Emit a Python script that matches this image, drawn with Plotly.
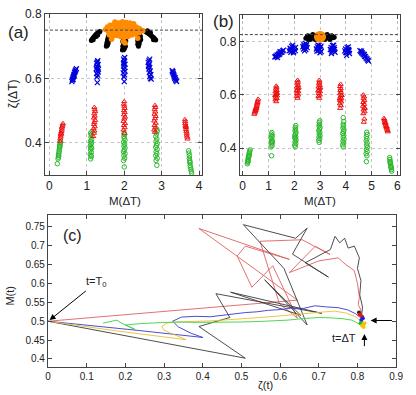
import plotly.graph_objects as go

# ================= panel (a): (M, zeta) points per species =================
A_GREEN = [(0.21,0.335),(0.23,0.35),(0.24,0.355),(0.24,0.362),(0.25,0.368),(0.26,0.372),(0.26,0.378),(0.27,0.383),(0.28,0.388),(0.28,0.393),(0.29,0.398),(0.30,0.402),(0.25,0.36),(0.27,0.39),
           (1.10,0.35),(1.11,0.36),(1.09,0.365),(1.12,0.37),(1.10,0.378),(1.13,0.383),(1.09,0.39),(1.11,0.395),(1.12,0.40),(1.10,0.405),(1.13,0.41),(1.11,0.418),(1.12,0.425),(1.10,0.43),(1.14,0.435),(1.11,0.385),(1.12,0.357),
           (2.0,0.325),(1.98,0.345),(2.01,0.352),(1.99,0.36),(2.02,0.366),(1.98,0.372),(2.0,0.378),(2.02,0.384),(1.99,0.39),(2.01,0.396),(1.98,0.402),(2.02,0.408),(2.0,0.414),(1.99,0.42),(2.01,0.426),(2.0,0.43),
           (2.87,0.33),(2.85,0.345),(2.88,0.352),(2.84,0.36),(2.87,0.366),(2.85,0.372),(2.88,0.38),(2.84,0.386),(2.86,0.392),(2.88,0.398),(2.85,0.405),(2.87,0.412),(2.84,0.42),(2.86,0.428),(2.88,0.436),(2.87,0.442),
           (3.72,0.375),(3.73,0.368),(3.74,0.36),(3.74,0.352),(3.75,0.345),(3.76,0.338),(3.76,0.33),(3.77,0.324),(3.78,0.318),(3.79,0.312),(3.80,0.306),(3.75,0.34)]
A_RED = [(0.28,0.405),(0.29,0.412),(0.30,0.418),(0.30,0.424),(0.31,0.43),(0.32,0.435),(0.33,0.44),(0.33,0.446),(0.34,0.45),(0.35,0.455),(0.36,0.46),(0.31,0.427),
         (1.17,0.42),(1.19,0.43),(1.20,0.437),(1.18,0.444),(1.21,0.45),(1.19,0.457),(1.20,0.463),(1.22,0.47),(1.19,0.477),(1.21,0.483),(1.20,0.49),(1.22,0.497),(1.21,0.503),(1.20,0.51),
         (2.0,0.43),(1.98,0.44),(2.01,0.447),(1.99,0.454),(2.02,0.46),(1.98,0.467),(2.0,0.474),(2.02,0.48),(1.99,0.487),(2.01,0.494),(1.99,0.50),(2.01,0.507),(2.0,0.514),(1.99,0.52),(2.0,0.528),
         (2.82,0.433),(2.80,0.44),(2.83,0.447),(2.81,0.454),(2.84,0.461),(2.80,0.468),(2.82,0.475),(2.84,0.482),(2.81,0.489),(2.83,0.496),(2.81,0.503),(2.83,0.51),(2.82,0.516),
         (3.62,0.472),(3.63,0.466),(3.63,0.46),(3.64,0.454),(3.65,0.448),(3.65,0.442),(3.66,0.436),(3.67,0.43),(3.67,0.424),(3.68,0.418),(3.69,0.412),(3.64,0.45)]
A_BLUE = [(0.60,0.590),(0.61,0.595),(0.62,0.598),(0.63,0.602),(0.64,0.606),(0.65,0.610),(0.66,0.613),(0.67,0.617),(0.68,0.620),(0.69,0.623),(0.70,0.626),(0.72,0.630),(0.63,0.596),(0.66,0.608),
          (1.27,0.604),(1.29,0.610),(1.26,0.615),(1.30,0.620),(1.28,0.625),(1.25,0.630),(1.29,0.634),(1.27,0.638),(1.30,0.643),(1.26,0.647),(1.28,0.651),(1.29,0.655),(1.28,0.587),(1.31,0.628),
          (1.99,0.605),(2.01,0.611),(1.97,0.617),(2.02,0.622),(1.99,0.627),(2.01,0.633),(1.98,0.638),(2.02,0.644),(1.99,0.649),(2.00,0.655),(1.98,0.660),(2.01,0.665),(2.00,0.590),(1.98,0.645),
          (2.70,0.600),(2.68,0.606),(2.71,0.612),(2.67,0.618),(2.69,0.623),(2.66,0.629),(2.68,0.634),(2.65,0.640),(2.67,0.645),(2.64,0.650),(2.66,0.655),(2.68,0.660),(2.72,0.598),(2.65,0.637),
          (3.28,0.624),(3.29,0.620),(3.31,0.616),(3.32,0.612),(3.33,0.608),(3.34,0.604),(3.35,0.600),(3.37,0.596),(3.38,0.593),(3.40,0.590),(3.30,0.622),(3.36,0.602)]
A_BLACK = [(1.12,0.718),(1.14,0.722),(1.16,0.724),(1.18,0.728),(1.20,0.730),(1.22,0.733),(1.24,0.736),(1.26,0.738),(1.28,0.740),(1.30,0.742),(1.33,0.744),(1.35,0.746),(1.17,0.72),(1.25,0.73),(1.29,0.735),
           (1.52,0.700),(1.53,0.706),(1.54,0.712),(1.55,0.717),(1.56,0.722),(1.57,0.727),(1.58,0.731),(1.60,0.735),(1.62,0.733),(1.59,0.72),(1.57,0.71),(1.55,0.703),(1.61,0.727),
           (1.95,0.688),(1.97,0.692),(1.99,0.690),(2.01,0.695),(1.96,0.700),(2.00,0.703),(2.03,0.700),(1.98,0.708),(2.02,0.712),(1.96,0.715),(2.00,0.718),(2.04,0.716),(1.98,0.722),(2.02,0.724),
           (2.38,0.700),(2.36,0.706),(2.40,0.708),(2.37,0.713),(2.41,0.716),(2.38,0.720),(2.42,0.724),(2.39,0.728),(2.43,0.731),(2.41,0.735),(2.36,0.718),(2.44,0.72),
           (2.58,0.745),(2.61,0.743),(2.64,0.740),(2.67,0.738),(2.70,0.735),(2.73,0.732),(2.76,0.729),(2.79,0.726),(2.82,0.722),(2.84,0.719),(2.62,0.748),(2.70,0.742),(2.78,0.72)]
A_ORANGE = [(1.50,0.752),(1.55,0.760),(1.58,0.745),(1.62,0.765),(1.65,0.750),(1.68,0.740),(1.72,0.768),(1.75,0.755),(1.78,0.745),(1.82,0.770),(1.85,0.758),(1.88,0.742),
            (1.92,0.766),(1.95,0.752),(1.98,0.738),(2.02,0.770),(2.05,0.756),(2.08,0.744),(2.12,0.764),(2.15,0.750),(2.18,0.740),(2.22,0.766),(2.25,0.754),(2.28,0.745),
            (2.32,0.760),(2.35,0.748),(2.40,0.755),(2.45,0.750),(2.50,0.748),(1.60,0.735),(1.70,0.732),(1.80,0.733),(1.90,0.730),(2.00,0.728),(2.10,0.730),(2.20,0.735),
            (2.30,0.738),(2.40,0.742),(1.75,0.775),(1.85,0.772),(1.95,0.776),(2.05,0.774),(2.15,0.772),(2.25,0.770),(1.66,0.722),(1.98,0.715),(2.02,0.71),(2.36,0.725)]
A_REF = 0.75

# ================= panel (b) =================
B_GREEN = [(0.18,0.342),(0.19,0.348),(0.20,0.354),(0.21,0.359),(0.22,0.364),(0.23,0.369),(0.24,0.374),(0.25,0.379),(0.26,0.384),(0.27,0.389),(0.29,0.394),(0.21,0.350),(0.25,0.372),
           (1.12,0.372),(1.10,0.405),(1.14,0.410),(1.11,0.416),(1.15,0.421),(1.12,0.427),(1.14,0.432),(1.10,0.438),(1.13,0.443),(1.15,0.448),(1.11,0.453),(1.13,0.459),(1.14,0.425),
           (2.04,0.405),(2.02,0.412),(2.06,0.418),(2.03,0.424),(2.07,0.430),(2.04,0.436),(2.06,0.442),(2.02,0.448),(2.05,0.454),(2.07,0.460),(2.03,0.466),(2.05,0.472),(2.04,0.478),(2.06,0.485),(2.02,0.440),
           (2.97,0.422),(2.95,0.430),(2.99,0.436),(2.96,0.442),(3.00,0.448),(2.97,0.454),(2.99,0.460),(2.95,0.466),(2.98,0.472),(3.00,0.478),(2.96,0.484),(2.98,0.490),(2.97,0.497),(2.99,0.503),
           (3.90,0.405),(3.88,0.413),(3.92,0.420),(3.89,0.427),(3.93,0.434),(3.90,0.441),(3.92,0.448),(3.88,0.455),(3.91,0.462),(3.93,0.469),(3.89,0.476),(3.91,0.483),(3.90,0.490),(3.92,0.500),(3.90,0.515),
           (4.80,0.350),(4.82,0.372),(4.79,0.380),(4.83,0.388),(4.80,0.396),(4.84,0.404),(4.81,0.412),(4.83,0.420),(4.79,0.428),(4.82,0.436),(4.80,0.444),(4.83,0.452),(4.81,0.460),
           (5.70,0.365),(5.71,0.358),(5.72,0.351),(5.73,0.344),(5.74,0.338),(5.75,0.332),(5.76,0.326),(5.77,0.320),(5.78,0.314),(5.72,0.347),(5.76,0.329)]
B_RED = [(0.45,0.528),(0.47,0.533),(0.48,0.538),(0.50,0.542),(0.51,0.547),(0.52,0.552),(0.54,0.557),(0.55,0.562),(0.56,0.567),(0.57,0.572),(0.58,0.577),(0.60,0.584),(0.49,0.545),(0.53,0.55),
         (1.30,0.575),(1.27,0.582),(1.32,0.587),(1.28,0.592),(1.33,0.597),(1.29,0.602),(1.31,0.607),(1.27,0.612),(1.32,0.617),(1.29,0.622),(1.31,0.627),(1.30,0.633),(1.26,0.598),(1.34,0.606),
         (2.13,0.588),(2.10,0.595),(2.15,0.600),(2.11,0.606),(2.16,0.612),(2.12,0.618),(2.14,0.624),(2.10,0.630),(2.15,0.636),(2.12,0.642),(2.14,0.648),(2.13,0.655),(2.09,0.615),(2.17,0.627),
         (2.97,0.588),(2.94,0.595),(2.99,0.600),(2.95,0.606),(3.00,0.612),(2.96,0.618),(2.98,0.624),(2.94,0.630),(2.99,0.636),(2.96,0.642),(2.98,0.648),(2.97,0.655),(2.93,0.615),(3.01,0.627),
         (3.78,0.550),(3.81,0.560),(3.77,0.567),(3.82,0.574),(3.78,0.580),(3.83,0.586),(3.79,0.592),(3.82,0.598),(3.78,0.604),(3.81,0.610),(3.79,0.617),(3.80,0.624),(3.78,0.632),(3.80,0.640),(3.76,0.585),(3.84,0.598),
         (4.70,0.498),(4.72,0.510),(4.68,0.530),(4.73,0.537),(4.69,0.544),(4.72,0.551),(4.67,0.558),(4.71,0.565),(4.68,0.572),(4.72,0.579),(4.69,0.586),(4.71,0.593),(4.68,0.60),(4.74,0.55),
         (5.48,0.512),(5.50,0.507),(5.51,0.502),(5.53,0.497),(5.54,0.492),(5.55,0.487),(5.57,0.482),(5.58,0.477),(5.60,0.472),(5.62,0.467),(5.63,0.462),(5.52,0.495),(5.59,0.48)]
B_BLUE = [(1.25,0.742),(1.28,0.745),(1.31,0.744),(1.33,0.749),(1.36,0.748),(1.38,0.752),(1.41,0.755),(1.43,0.752),(1.46,0.758),(1.49,0.761),(1.52,0.760),(1.55,0.765),(1.58,0.768),(1.35,0.740),(1.45,0.762),
          (1.80,0.765),(1.84,0.775),(1.87,0.760),(1.90,0.782),(1.92,0.768),(1.95,0.777),(1.98,0.762),(2.01,0.773),(2.04,0.766),(1.88,0.771),(1.94,0.786),(1.97,0.758),(2.05,0.778),(1.85,0.768),
          (2.33,0.780),(2.36,0.772),(2.38,0.788),(2.41,0.776),(2.43,0.793),(2.45,0.770),(2.47,0.784),(2.50,0.777),(2.40,0.765),(2.44,0.782),(2.48,0.790),(2.37,0.783),
          (2.86,0.772),(2.90,0.780),(2.93,0.765),(2.96,0.785),(2.99,0.770),(3.02,0.778),(3.05,0.762),(2.88,0.764),(2.95,0.775),(3.00,0.758),(3.04,0.783),(2.92,0.787),
          (3.40,0.770),(3.43,0.778),(3.46,0.762),(3.49,0.785),(3.52,0.768),(3.55,0.777),(3.58,0.760),(3.44,0.755),(3.50,0.775),(3.53,0.786),(3.47,0.770),(3.56,0.770),
          (3.96,0.765),(3.99,0.772),(4.02,0.758),(4.05,0.778),(4.08,0.762),(4.11,0.770),(4.14,0.755),(4.03,0.748),(4.07,0.768),(4.10,0.780),(4.00,0.760),(4.13,0.765),
          (4.55,0.766),(4.58,0.762),(4.61,0.764),(4.64,0.757),(4.67,0.753),(4.70,0.750),(4.73,0.745),(4.76,0.743),(4.79,0.738),(4.82,0.735),(4.85,0.731),(4.88,0.727),(4.62,0.758),(4.72,0.752)]
B_BLACK = [(2.45,0.812),(2.50,0.818),(2.55,0.810),(2.60,0.820),(2.65,0.814),(2.70,0.822),(2.75,0.812),(2.80,0.818),(2.85,0.824),(2.90,0.812),(2.95,0.820),
           (3.05,0.822),(3.10,0.812),(3.15,0.818),(3.20,0.824),(3.25,0.814),(3.30,0.820),(3.35,0.812),(3.40,0.818),(3.45,0.822),(3.50,0.814),(3.55,0.816),
           (2.52,0.822),(2.62,0.808),(2.72,0.826),(2.82,0.808),(3.18,0.808),(3.28,0.826),(3.38,0.808),(3.48,0.820)]
B_ORANGE = [(2.98,0.817),(3.00,0.819),(3.02,0.818)]
B_REF = 0.826

# ================= panel (c): trajectories (zeta(t), M(t)) =================
C_RED = [(0,0.5),(0.645,0.556),(0.39,0.746),(0.624,0.664),(0.51,0.699),(0.489,0.673),(0.527,0.59),(0.581,0.647),(0.645,0.508),(0.598,0.547),
         (0.548,0.712),(0.657,0.716),(0.729,0.677),(0.691,0.699),(0.624,0.629),(0.70,0.66),(0.75,0.668),(0.77,0.65),(0.792,0.634),(0.80,0.60),
         (0.805,0.564),(0.802,0.545),(0.809,0.529),(0.81,0.51)]
C_BLACK = [(0,0.5),(0.51,0.402),(0.39,0.486),(0.47,0.51),(0.434,0.573),(0.708,0.521),(0.472,0.577),(0.653,0.516),(0.56,0.61),(0.67,0.49),
           (0.61,0.64),(0.505,0.756),(0.64,0.72),(0.67,0.747),(0.632,0.678),(0.725,0.617),(0.665,0.655),(0.73,0.69),(0.742,0.725),(0.754,0.708),
           (0.767,0.72),(0.776,0.694),(0.792,0.699),(0.805,0.668),(0.80,0.64),(0.809,0.608),(0.806,0.57),(0.813,0.538),(0.811,0.515)]
C_BLUE = [(0,0.5),(0.12,0.488),(0.23,0.476),(0.40,0.457),(0.37,0.468),(0.337,0.485),(0.322,0.50),(0.345,0.511),(0.38,0.513),(0.42,0.512),
          (0.45,0.516),(0.48,0.519),(0.51,0.523),(0.54,0.525),(0.57,0.529),(0.60,0.531),(0.63,0.535),(0.66,0.534),(0.69,0.541),(0.72,0.538),
          (0.75,0.536),(0.775,0.53),(0.795,0.52),(0.81,0.508)]
C_YELLOW = [(0,0.5),(0.18,0.474),(0.357,0.451),(0.33,0.462),(0.30,0.476),(0.294,0.487),(0.31,0.496),(0.36,0.499),(0.42,0.501),(0.48,0.505),
            (0.54,0.509),(0.60,0.514),(0.65,0.519),(0.70,0.524),(0.74,0.527),(0.77,0.522),(0.795,0.512),(0.812,0.497)]
C_GREEN = [(0.142,0.495),(0.178,0.503),(0.186,0.497),(0.205,0.488),(0.225,0.478),(0.20,0.49),(0.24,0.494),(0.29,0.497),(0.33,0.498),(0.38,0.497),
           (0.44,0.497),(0.50,0.498),(0.56,0.500),(0.62,0.503),(0.66,0.507),(0.70,0.510),(0.73,0.509),(0.76,0.507),(0.785,0.503),(0.80,0.495),(0.81,0.49)]
C_END_RED = [(0.806,0.518),(0.812,0.512)]
C_END_BLACK = [(0.804,0.523)]
C_END_BLUE = [(0.814,0.508),(0.81,0.503)]
C_END_GREEN = [(0.808,0.495),(0.815,0.492)]
C_END_YELLOW = [(0.812,0.489),(0.818,0.495),(0.816,0.485)]

FONT = "Liberation Sans, Arial, sans-serif"
GREEN, RED, BLUE, ORANGE = "#2db82d", "#ee1111", "#0000dd", "#ff8c00"


def xs(pts):
    return [p[0] for p in pts]


def ys(pts):
    return [p[1] for p in pts]


fig = go.Figure()


def add_scatter(pts, ax, kind):
    xa, ya = ("x", "y") if ax == 1 else ("x%d" % ax, "y%d" % ax)
    if kind == "green":
        m = dict(symbol="circle-open", size=4.5, color=GREEN, line=dict(width=1, color=GREEN))
    elif kind == "red":
        m = dict(symbol="triangle-up-open", size=4.5, color=RED, line=dict(width=1, color=RED))
    elif kind == "blue":
        m = dict(symbol="x-thin", size=5, color=BLUE, line=dict(width=1.2, color=BLUE))
    elif kind == "black":
        m = dict(symbol="circle", size=5, color="black")
    elif kind == "orange":
        m = dict(symbol="circle", size=5.5, color=ORANGE)
    else:
        m = dict(symbol="circle", size=11, color=ORANGE)
    fig.add_trace(go.Scatter(x=xs(pts), y=ys(pts), mode="markers", marker=m,
                             xaxis=xa, yaxis=ya, showlegend=False, hoverinfo="skip"))


for pts, k in [(A_GREEN, "green"), (A_RED, "red"), (A_BLUE, "blue"), (A_BLACK, "black"), (A_ORANGE, "orange")]:
    add_scatter(pts, 1, k)
for pts, k in [(B_GREEN, "green"), (B_RED, "red"), (B_BLUE, "blue"), (B_BLACK, "black"), (B_ORANGE, "big")]:
    add_scatter(pts, 2, k)

for pts, col in [(C_RED, "#e06060"), (C_BLACK, "#3a3a3a"), (C_BLUE, "#3838d0"),
                 (C_YELLOW, "#e8c12c"), (C_GREEN, "#3fd03f")]:
    fig.add_trace(go.Scatter(x=xs(pts), y=ys(pts), mode="lines", line=dict(color=col, width=0.9),
                             xaxis="x3", yaxis="y3", showlegend=False, hoverinfo="skip"))
for pts, col in [(C_END_BLACK, "#222222"), (C_END_RED, "#ee1111"), (C_END_BLUE, "#2222dd"),
                 (C_END_GREEN, "#22bb22"), (C_END_YELLOW, "#f0c800")]:
    fig.add_trace(go.Scatter(x=xs(pts), y=ys(pts), mode="markers", marker=dict(size=4, color=col),
                             xaxis="x3", yaxis="y3", showlegend=False, hoverinfo="skip"))

W, H = 416, 395


def px2paper(x0, x1, y0, y1):
    return [x0 / W, x1 / W], [1 - y1 / H, 1 - y0 / H]


ax_common = dict(showline=True, linecolor="#444444", linewidth=1, mirror="ticks", ticks="inside",
                 ticklen=4, tickcolor="#444444", zeroline=False,
                 tickfont=dict(family=FONT, size=12, color="#222222"))
small_ticks = {**ax_common, "tickfont": dict(family=FONT, size=10, color="#222222")}
grid = dict(showgrid=True, gridcolor="#c4c4c4", gridwidth=1, griddash="dot")

dxa, dya = px2paper(43, 204, 7, 171)
dxb, dyb = px2paper(242.7, 406.7, 8, 171)
dxc, dyc = px2paper(46, 403, 212, 366)

fig.update_layout(
    width=W, height=H, margin=dict(l=0, r=0, t=0, b=0),
    paper_bgcolor="white", plot_bgcolor="white", showlegend=False,
    font=dict(family=FONT, color="#222222"),
    xaxis=dict(domain=dxa, range=[-0.12, 4.08], tick0=0, dtick=1, anchor="y", **ax_common, **grid),
    yaxis=dict(domain=dya, range=[0.3, 0.8005], tick0=0, dtick=0.2, anchor="x", **ax_common, **grid),
    xaxis2=dict(domain=dxb, range=[-0.11, 6.1], tick0=0, dtick=1, anchor="y2", **ax_common, **grid),
    yaxis2=dict(domain=dyb, range=[0.3, 0.9], tick0=0, dtick=0.2, anchor="x2", **ax_common, **grid),
    xaxis3=dict(domain=dxc, range=[-0.0005, 0.9005], tick0=0, dtick=0.1, anchor="y3", **small_ticks, showgrid=False),
    yaxis3=dict(domain=dyc, range=[0.38, 0.781], tick0=0.4, dtick=0.05, anchor="x3", **small_ticks, showgrid=False),
)

fig.add_shape(type="line", xref="x domain", yref="y", x0=0, x1=1, y0=A_REF, y1=A_REF,
              line=dict(color="#444444", width=1, dash="3px,2px"))
fig.add_shape(type="line", xref="x2 domain", yref="y2", x0=0, x1=1, y0=B_REF, y1=B_REF,
              line=dict(color="#444444", width=1, dash="3px,2px"))

ann = []


def txt(x, y, s, size, angle=0):
    ann.append(dict(x=x / W, y=1 - y / H, xref="paper", yref="paper", text=s, showarrow=False,
                    font=dict(family=FONT, size=size, color="#222222"), textangle=angle,
                    xanchor="center", yanchor="middle"))


txt(16, 26, "(a)", 17)
txt(226, 15, "(b)", 17)
txt(71, 233, "(c)", 16)
txt(125, 197, "M(ΔT)", 11.5)
txt(325, 197, "M(ΔT)", 11.5)
txt(11, 88, "ζ(ΔT)", 12, -90)
txt(269, 385, "ζ(t)", 11)
txt(7, 294, "M(t)", 11, -90)

# t=T0 label with its arrow to the starting point
ann.append(dict(x=0.004, y=0.503, ax=0.125, ay=0.603, xref="x3", yref="y3", axref="x3", ayref="y3",
                text="t=T<sub>0</sub>", showarrow=True, arrowhead=2, arrowsize=1.2, arrowwidth=1,
                arrowcolor="black", standoff=0, font=dict(family=FONT, size=11, color="#222222")))
ann.append(dict(x=0.765, y=0.455, xref="x3", yref="y3", text="t=ΔT", showarrow=False,
                font=dict(family=FONT, size=11, color="#222222")))
for (tx, ty), (hx, hy) in [((0.818, 0.43), (0.818, 0.466)),
                           ((0.893, 0.502), (0.834, 0.502))]:
    ann.append(dict(x=hx, y=hy, ax=tx, ay=ty, xref="x3", yref="y3", axref="x3", ayref="y3",
                    text="", showarrow=True, arrowhead=2, arrowsize=1.2, arrowwidth=1, arrowcolor="black"))

fig.update_layout(annotations=ann)

fig.write_html("out.html", config={"displayModeBar": False},
               post_script="document.body.style.margin='0px';")
